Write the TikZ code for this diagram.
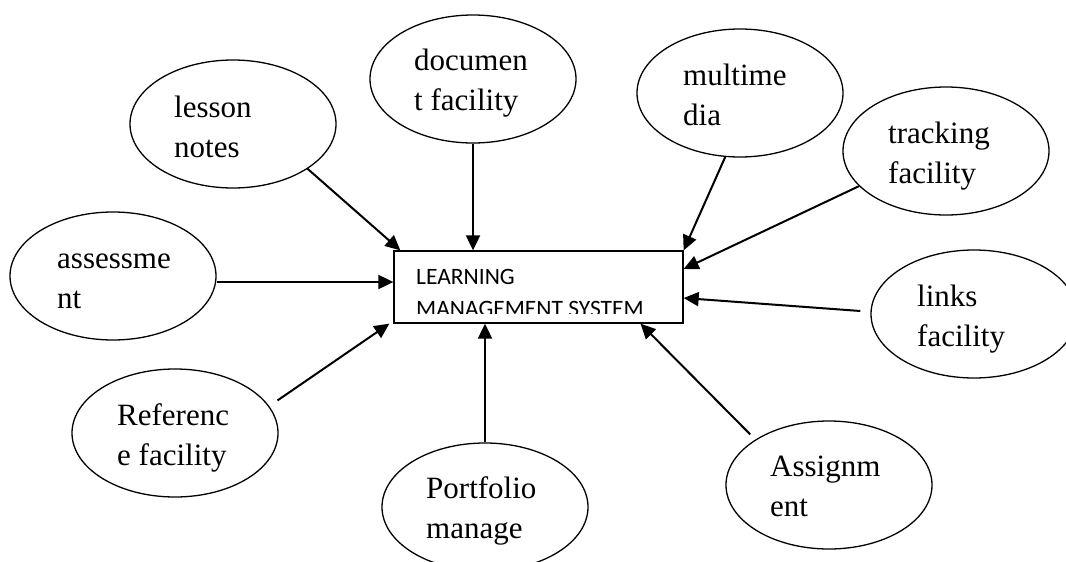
\documentclass[tikz,border=0pt]{standalone}
\usepackage{fontspec}
\setmainfont{Liberation Serif}
\newfontfamily\boxfont{Carlito}
\usetikzlibrary{arrows.meta,shapes.geometric}
\begin{document}
\begin{tikzpicture}[x=1pt,y=-1pt,
  bubble/.style={ellipse, draw, line width=1.3pt, minimum width=206pt, minimum height=128pt, inner sep=0pt},
  txt/.style={anchor=base west, align=left, inner sep=0pt, font=\fontsize{31}{40}\selectfont},
  arr/.style={-{Triangle[length=15pt,width=14pt]}, line width=2pt},
  lms/.style={draw, line width=1.3pt, minimum width=289pt, minimum height=72pt, inner sep=0pt}]
\path[use as bounding box, clip] (0,0) rectangle (1066,562);
\fill[white] (0,0) rectangle (1066,562);

% central box
\node[lms] (box) at (538.5,287) {};
\begin{scope}
  \clip (box.north west) rectangle ([yshift=10pt]box.south east);
  \node[anchor=base west, align=left, inner sep=0pt, font=\boxfont\fontsize{23.5}{32}\selectfont] (boxt) at (416,316) {LEARNING\\MANAGEMENT SYSTEM};
\end{scope}

% bubbles (text anchored at the baseline of its last line)
\node[bubble] (lesson) at (233,124) {};
\node[txt] (lessont) at (174,157) {lesson\\notes};
\node[bubble] (doc) at (473,79) {};
\node[txt] (doct) at (414,110) {documen\\t facility};
\node[bubble] (multi) at (740,93) {};
\node[txt] (multit) at (683,125) {multime\\dia};
\node[bubble] (track) at (946,151) {};
\node[txt] (trackt) at (888,183) {tracking\\facility};
\node[bubble] (assess) at (113,276) {};
\node[txt] (assesst) at (57,308) {assessme\\nt};
\node[bubble] (links) at (974,314) {};
\node[txt] (linkst) at (917,346) {links\\facility};
\node[bubble] (ref) at (175,433) {};
\node[txt] (reft) at (117,465) {Referenc\\e facility};
\node[bubble] (port) at (485,507) {};
\node[txt] (portt) at (426,538) {Portfolio\\manage};
\node[bubble] (assign) at (829,485) {};
\node[txt] (assignt) at (770,516) {Assignm\\ent};

% connectors
\draw[arr] (lesson.-31) -- ([xshift=7pt]box.north west);
\draw[arr] (doc.south) -- (doc.south |- box.north);
\draw[arr] (multi.-103) -- (box.north east);
\draw[arr] (track.-158) -- ([yshift=18pt]box.east);
\draw[arr] ([yshift=-6pt]assess.east) -- ([yshift=5pt]box.west);
\draw[arr] ([xshift=-10pt,yshift=3pt]links.west) -- ([yshift=-11pt]box.east);
\draw[arr] ([xshift=13pt]ref.20) -- ([xshift=-4pt]box.south west);
\draw[arr] (port.north) -- (port.north |- box.south);
\draw[arr] ([shift={(-7pt,4pt)}]assign.147) -- ([xshift=102pt]box.south);
\end{tikzpicture}
\end{document}
